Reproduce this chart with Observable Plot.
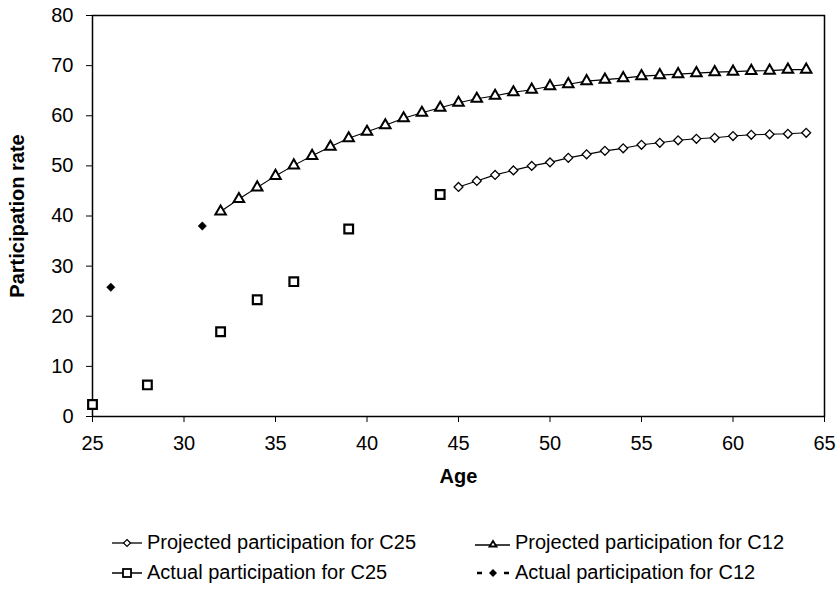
<!DOCTYPE html>
<html>
<head>
<meta charset="utf-8">
<script src="https://cdn.jsdelivr.net/npm/d3@7"></script>
<script src="https://cdn.jsdelivr.net/npm/@observablehq/plot@0.6"></script>
<style>
  html, body { margin: 0; padding: 0; background: white; }
  #wrap { width: 840px; font-family: "Liberation Sans", Arial, sans-serif; }
  g[aria-label="x-axis label"] text, g[aria-label="y-axis label"] text { font-weight: bold; }
  #legend { position: relative; width: 840px; height: 89px; }
  .item { position: absolute; display: flex; align-items: center; font-size: 20px; line-height: 23px; white-space: nowrap; color: #000; }
  .item svg { display: block; }
</style>
</head>
<body>
<div id="wrap">
  <div id="chart"></div>
  <div id="legend"></div>
</div>
<script>
// ---- data ----
const c12ProjAges = [32,33,34,35,36,37,38,39,40,41,42,43,44,45,46,47,48,49,50,51,52,53,54,55,56,57,58,59,60,61,62,63,64];
const c12ProjValues = [40.9,43.4,45.7,48.0,50.1,52.0,53.8,55.5,56.8,58.1,59.5,60.6,61.6,62.6,63.4,64.0,64.7,65.2,65.9,66.3,66.9,67.2,67.5,67.9,68.1,68.3,68.5,68.7,68.8,68.95,69.0,69.2,69.2];
const c25ProjAges = [45,46,47,48,49,50,51,52,53,54,55,56,57,58,59,60,61,62,63,64];
const c25ProjValues = [45.8,47.0,48.2,49.1,50.0,50.7,51.6,52.3,53.0,53.5,54.2,54.6,55.1,55.4,55.6,55.95,56.2,56.3,56.4,56.6];
const c25ActualAges = [25,28,32,34,36,39,44];
const c25ActualValues = [2.4,6.3,16.9,23.3,26.9,37.4,44.3];
const c12ActualAges = [26,31];
const c12ActualValues = [25.8,38.0];
const xTicks = [25,30,35,40,45,50,55,60,65];
const yTicks = [0,10,20,30,40,50,60,70,80];
const legendLabels = [
  "Projected participation for C25",
  "Projected participation for C12",
  "Actual participation for C25",
  "Actual participation for C12"
];

const toRows = (ages, vals) => ages.map((a, i) => ({age: a, v: vals[i]}));
const c12Proj = toRows(c12ProjAges, c12ProjValues);
const c25Proj = toRows(c25ProjAges, c25ProjValues);
const c25Act = toRows(c25ActualAges, c25ActualValues);
const c12Act = toRows(c12ActualAges, c12ActualValues);

const chart = Plot.plot({
  width: 840,
  height: 500,
  marginTop: 15,
  marginRight: 16,
  marginBottom: 84,
  marginLeft: 92,
  style: {fontFamily: "'Liberation Sans', Arial, sans-serif", fontSize: "20px", color: "black", background: "white", overflow: "visible"},
  x: {domain: [25, 65]},
  y: {domain: [0, 80]},
  marks: [
    Plot.frame({stroke: "black", strokeWidth: 1.5}),
    Plot.axisX({ticks: xTicks, tickSize: 6, tickPadding: 13, label: "Age", labelAnchor: "center", labelArrow: "none", labelOffset: 66, tickFormat: d => String(d)}),
    Plot.axisY({ticks: yTicks, tickSize: 6, tickPadding: 13, label: "Participation rate", labelAnchor: "center", labelArrow: "none", labelOffset: 83, tickFormat: d => String(d)}),
    Plot.line(c12Proj, {x: "age", y: "v", stroke: "black", strokeWidth: 1.1}),
    Plot.line(c25Proj, {x: "age", y: "v", stroke: "black", strokeWidth: 1.1}),
    Plot.dot(c12Proj, {x: "age", y: "v", symbol: "triangle", r: 3.9, stroke: "black", strokeWidth: 2, fill: "white"}),
    Plot.dot(c25Proj, {x: "age", y: "v", symbol: "diamond2", r: 4, stroke: "black", strokeWidth: 1.3, fill: "white"}),
    Plot.dot(c25Act, {x: "age", y: "v", symbol: "square", r: 4.9, stroke: "black", strokeWidth: 2.2, fill: "white"}),
    Plot.dot(c12Act, {x: "age", y: "v", symbol: "diamond2", r: 3.8, stroke: "black", strokeWidth: 0.5, fill: "black"})
  ]
});
document.getElementById("chart").appendChild(chart);

// ---- legend (HTML below the SVG) ----
const legend = document.getElementById("legend");
const symbolSvg = [
  `<svg width="35" height="16"><line x1="0" y1="8" x2="30" y2="8" stroke="black" stroke-width="1.3"/><path d="M15,4.5 L18.5,8 L15,11.5 L11.5,8 Z" fill="white" stroke="black" stroke-width="1.2"/></svg>`,
  `<svg width="40" height="16"><line x1="0" y1="10" x2="35" y2="10" stroke="black" stroke-width="1.5"/><path d="M18,6 L21.5,11.5 L14.5,11.5 Z" fill="white" stroke="black" stroke-width="1.8"/></svg>`,
  `<svg width="35" height="16"><line x1="0" y1="8" x2="30" y2="8" stroke="black" stroke-width="1.5"/><rect x="11" y="4" width="8" height="8" fill="white" stroke="black" stroke-width="1.8"/></svg>`,
  `<svg width="40" height="16"><line x1="2" y1="8" x2="7" y2="8" stroke="black" stroke-width="2.5"/><line x1="29" y1="8" x2="34" y2="8" stroke="black" stroke-width="2.5"/><path d="M18,4 L22,8 L18,12 L14,8 Z" fill="black"/></svg>`
];
const positions = [
  {left: 112, top: 31},
  {left: 475, top: 31},
  {left: 112, top: 61},
  {left: 475, top: 61}
];
legendLabels.forEach((lab, i) => {
  const d = document.createElement("div");
  d.className = "item";
  d.style.left = positions[i].left + "px";
  d.style.top = positions[i].top + "px";
  d.innerHTML = symbolSvg[i] + `<span>${lab}</span>`;
  legend.appendChild(d);
});
</script>
</body>
</html>
